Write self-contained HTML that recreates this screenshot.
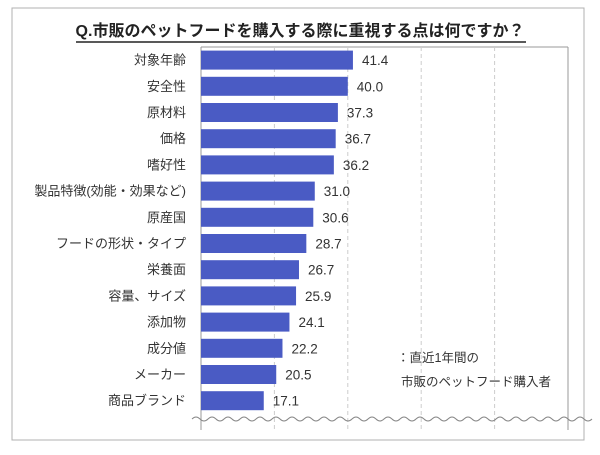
<!DOCTYPE html>
<html><head><meta charset="utf-8"><style>
body{margin:0;background:#fff;font-family:"Liberation Sans","Noto Sans CJK JP",sans-serif;}
svg text{font-family:"Liberation Sans","Noto Sans CJK JP",sans-serif;}
</style></head><body>
<svg id="c" width="600" height="450" xmlns="http://www.w3.org/2000/svg">
<rect x="12" y="8" width="572" height="432" fill="#fff" stroke="#b0b0b0"/>
<text x="300" y="36" text-anchor="middle" font-size="16" font-weight="bold" fill="#222">Q.市販のペットフードを購入する際に重視する点は何ですか？</text>
<line x1="76" y1="42" x2="526" y2="42" stroke="#222" stroke-width="1.5"/>
<g id="grid"></g><g id="bars"></g>
<text x="397" y="362" font-size="12.5" fill="#333">：直近1年間の</text>
<text x="401" y="386" font-size="12.5" fill="#333">市販のペットフード購入者</text>
</svg>
<script>
const categories=["対象年齢","安全性","原材料","価格","嗜好性","製品特徴(効能・効果など)","原産国","フードの形状・タイプ","栄養面","容量、サイズ","添加物","成分値","メーカー","商品ブランド"];
const values=[41.4,40.0,37.3,36.7,36.2,31.0,30.6,28.7,26.7,25.9,24.1,22.2,20.5,17.1];
const ticks=[0,20,40,60,80,100];
const NS="http://www.w3.org/2000/svg";
const X0=201,X1=568,Y0=47,ROW=26.2;
const xs=v=>X0+(v/100)*(X1-X0);
const yc=i=>Y0+ROW*(i+0.5);
function mk(t,a,p){const e=document.createElementNS(NS,t);for(const k in a)e.setAttribute(k,a[k]);p.appendChild(e);return e;}
const g=document.getElementById('grid'),b=document.getElementById('bars');
const bottom=430,wy=419;
mk('line',{x1:X0,x2:X1,y1:Y0,y2:Y0,stroke:'#999'},g);
mk('line',{x1:X0,x2:X0,y1:Y0,y2:bottom,stroke:'#999'},g);
mk('line',{x1:X1,x2:X1,y1:Y0,y2:bottom,stroke:'#999'},g);
ticks.forEach((t,i)=>{if(i==0||i==ticks.length-1)return;
const l=mk('line',{x1:xs(t),x2:xs(t),y1:Y0,y2:bottom,stroke:'#ccc','stroke-dasharray':'4,3'},g);

});
categories.forEach((c,i)=>{
const r=mk('rect',{x:X0,y:yc(i)-9.5,width:xs(values[i])-X0,height:19,fill:'#4a5bc4'},b);


const lt=mk('text',{x:186,y:yc(i)+4.5,'text-anchor':'end','font-size':13,fill:'#333'},b);lt.textContent=c;


const vt=mk('text',{x:xs(values[i])+9,y:yc(i)+5,'font-size':13.5,fill:'#333'},b);vt.textContent=values[i].toFixed(1);


});
let d='M192 '+wy;for(let x=192;x<578;x+=16){d+=' q4 -4 8 0 q4 4 8 0';}
const w=mk('path',{d:d,fill:'none',stroke:'#888'},g);


</script>
</body></html>
